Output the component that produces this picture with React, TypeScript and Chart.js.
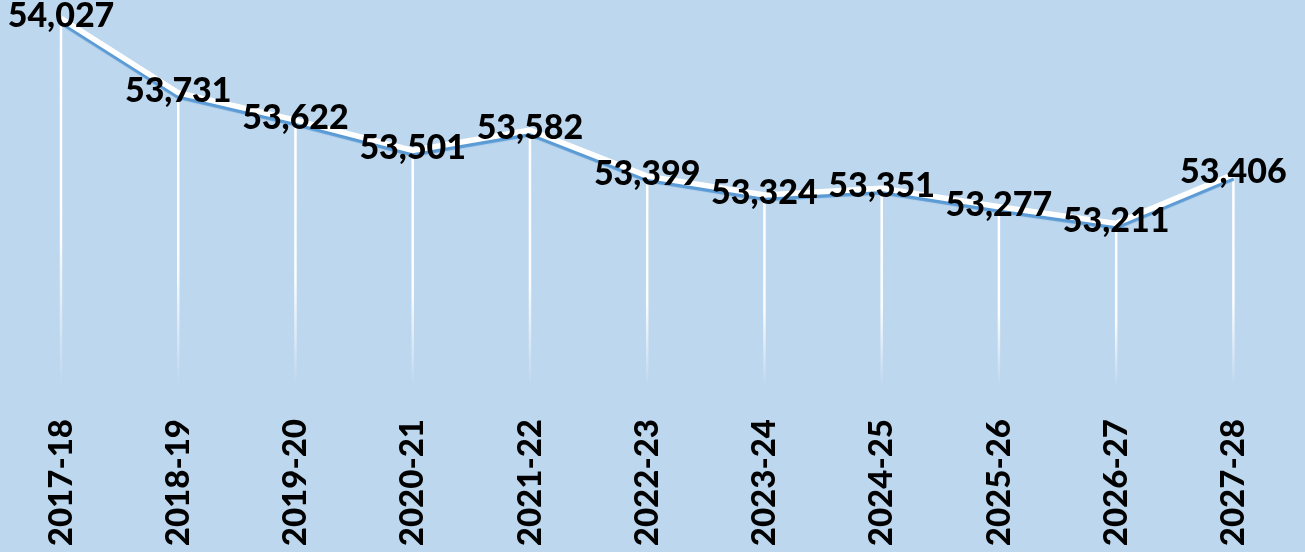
import React, { useEffect, useRef } from "react";
import { Chart, registerables } from "chart.js";

Chart.register(...registerables);

const categories = ["2017-18", "2018-19", "2019-20", "2020-21", "2021-22", "2022-23", "2023-24", "2024-25", "2025-26", "2026-27", "2027-28"];
const values = [54027, 53731, 53622, 53501, 53582, 53399, 53324, 53351, 53277, 53211, 53406];

const FONT = "Lato, 'Noto Sans', sans-serif";

const dropLines = {
  id: "dropLines",
  beforeDatasetsDraw(chart: any) {
    const { ctx, chartArea } = chart;
    const meta = chart.getDatasetMeta(0);
    ctx.save();
    meta.data.forEach((pt: any) => {
      const g = ctx.createLinearGradient(0, pt.y, 0, chartArea.bottom);
      g.addColorStop(0, "rgba(255,255,255,1)");
      g.addColorStop(0.6, "rgba(255,255,255,0.95)");
      g.addColorStop(1, "rgba(255,255,255,0)");
      ctx.strokeStyle = g;
      ctx.lineWidth = 2.5;
      ctx.beginPath();
      ctx.moveTo(pt.x, pt.y);
      ctx.lineTo(pt.x, chartArea.bottom);
      ctx.stroke();
    });
    ctx.restore();
  },
};

const lineShadow = {
  id: "lineShadow",
  beforeDatasetDraw(chart: any) {
    const ctx = chart.ctx;
    ctx.save();
    ctx.shadowColor = "#5B9BD5";
    ctx.shadowOffsetX = 0;
    ctx.shadowOffsetY = 3.5;
    ctx.shadowBlur = 1;
  },
  afterDatasetDraw(chart: any) {
    chart.ctx.restore();
  },
};

const dataLabels = {
  id: "dataLabels",
  afterDatasetsDraw(chart: any) {
    const { ctx } = chart;
    const meta = chart.getDatasetMeta(0);
    ctx.save();
    ctx.font = `900 34px ${FONT}`;
    ctx.fillStyle = "#000000";
    ctx.textAlign = "center";
    ctx.textBaseline = "middle";
    meta.data.forEach((pt: any, i: number) => {
      ctx.fillText(values[i].toLocaleString("en-US"), pt.x, pt.y - 2);
    });
    ctx.restore();
  },
};

export default function App() {
  const ref = useRef<HTMLCanvasElement>(null);

  useEffect(() => {
    if (!ref.current) return;
    const chart = new Chart(ref.current, {
      type: "line",
      data: {
        labels: categories,
        datasets: [
          {
            data: values,
            borderColor: "#FFFFFF",
            borderWidth: 5.5,
            pointRadius: 0,
            tension: 0,
            clip: false as any,
          },
        ],
      },
      options: {
        animation: false,
        responsive: false,
        maintainAspectRatio: false,
        layout: { padding: { left: 61, right: 67, top: 0, bottom: 7 } },
        plugins: {
          legend: { display: false },
          tooltip: { enabled: false },
        },
        scales: {
          x: {
            offset: false,
            grid: { display: false, drawTicks: false },
            border: { display: false },
            afterFit: (scale: any) => {
              scale.height = 158;
            },
            ticks: {
              color: "#000000",
              font: { family: FONT, weight: "900", size: 33 },
              maxRotation: 90,
              minRotation: 90,
              padding: 32,
              autoSkip: false,
            },
          },
          y: {
            display: false,
            min: 52560,
            max: 54100,
          },
        },
      },
      plugins: [dropLines, lineShadow, dataLabels],
    });
    return () => chart.destroy();
  }, []);

  return (
    <div style={{ position: "fixed", left: 0, top: 0, width: 1305, height: 552, background: "#BDD7EE" }}>
      <canvas ref={ref} width={1305} height={552} style={{ display: "block" }} />
    </div>
  );
}
